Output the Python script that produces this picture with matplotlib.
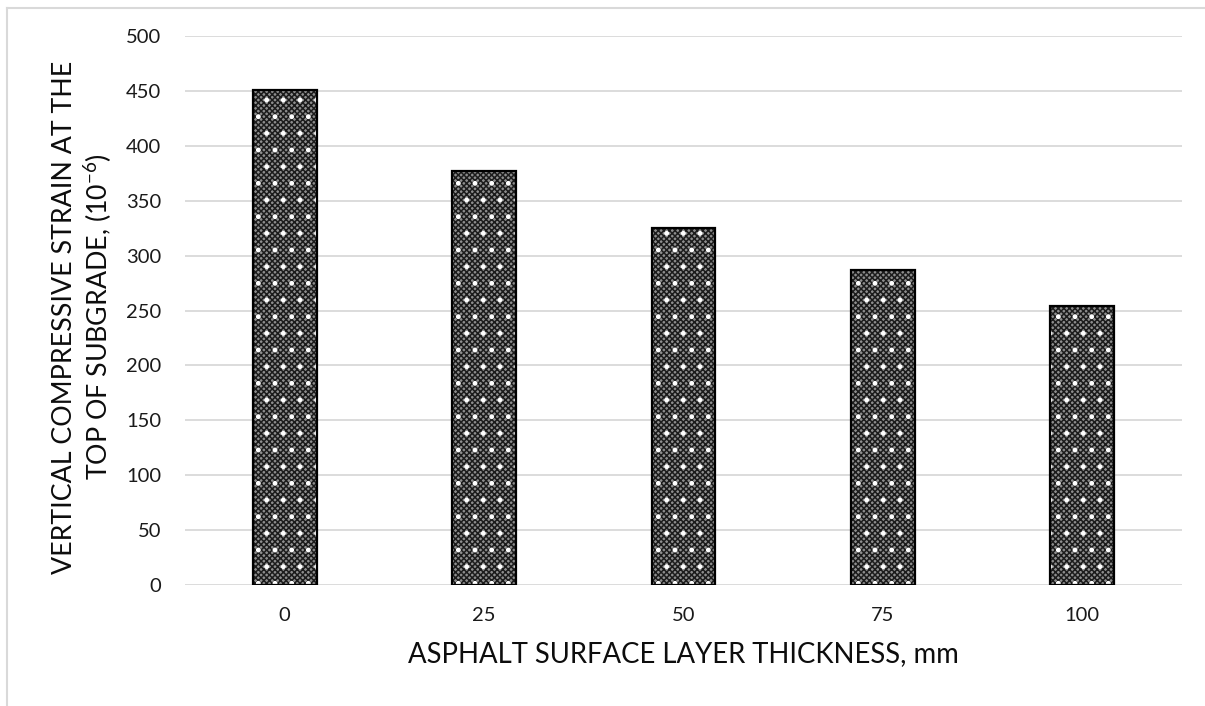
import matplotlib
matplotlib.use("Agg")
import matplotlib.pyplot as plt
from matplotlib.lines import Line2D

plt.rcParams['font.family'] = ['Lato', 'DejaVu Sans']
plt.rcParams['mathtext.fontset'] = 'custom'
plt.rcParams['mathtext.rm'] = 'Lato'
plt.rcParams['mathtext.it'] = 'Lato'
plt.rcParams['hatch.linewidth'] = 1.1

thickness = ['0', '25', '50', '75', '100']
strain = [451, 377, 325, 287, 254]
y_ticks = [0, 50, 100, 150, 200, 250, 300, 350, 400, 450, 500]
y_title = ['VERTICAL COMPRESSIVE STRAIN AT THE',
           'TOP OF SUBGRADE, (10$^{\\mathregular{-6}}$)']

W, H = 1205, 706
fig = plt.figure(figsize=(W / 100, H / 100), dpi=100)
ax = fig.add_axes([185 / W, 1 - 585 / H, (1182 - 185) / W, (585 - 36) / H])

x = list(range(len(thickness)))
bw = 0.32
# textured fill: grey base with a fine dark cross-hatch, white dots on top, black outline
ax.bar(x, strain, width=bw, color='#8e8e8e', edgecolor='#1c1c1c', hatch='xxxxxx',
       linewidth=0, zorder=3)
ax.bar(x, strain, width=bw, color='none', edgecolor='white', hatch='.',
       linewidth=0, zorder=4)
ax.bar(x, strain, width=bw, color='none', edgecolor='black', linewidth=1.6, zorder=5)

ax.set_xlim(-0.5, len(thickness) - 0.5)
ax.set_ylim(0, 500)
ax.set_yticks(y_ticks)
ax.set_xticks(x)
ax.set_xticklabels(thickness)
ax.tick_params(axis='both', length=0, labelsize=14.5, labelcolor='#1a1a1a')
ax.tick_params(axis='y', pad=17)
ax.tick_params(axis='x', pad=16)
ax.grid(axis='y', color='#d9d9d9', linewidth=1.3, zorder=0)
ax.set_axisbelow(True)
for s in ax.spines.values():
    s.set_visible(False)

ax.set_xlabel('ASPHALT SURFACE LAYER THICKNESS, mm', fontsize=19.8, labelpad=12,
              color='#0d0d0d')

# two-line vertical axis title, each line placed on its own baseline
for line, base_x in zip(y_title, [72, 108]):
    fig.text(base_x / W, 1 - 317 / H, line, rotation=90, rotation_mode='anchor',
             ha='center', va='baseline', fontsize=19.3, color='#0d0d0d')

# chart area frame
fig.add_artist(Line2D([7.5 / W, 1], [1 - 7.5 / H, 1 - 7.5 / H], color='#d9d9d9',
                      linewidth=1.5, transform=fig.transFigure))
fig.add_artist(Line2D([7.5 / W, 7.5 / W], [0, 1 - 7.5 / H], color='#d9d9d9',
                      linewidth=1.5, transform=fig.transFigure))

fig.savefig('out.png', dpi=100, facecolor='white')
